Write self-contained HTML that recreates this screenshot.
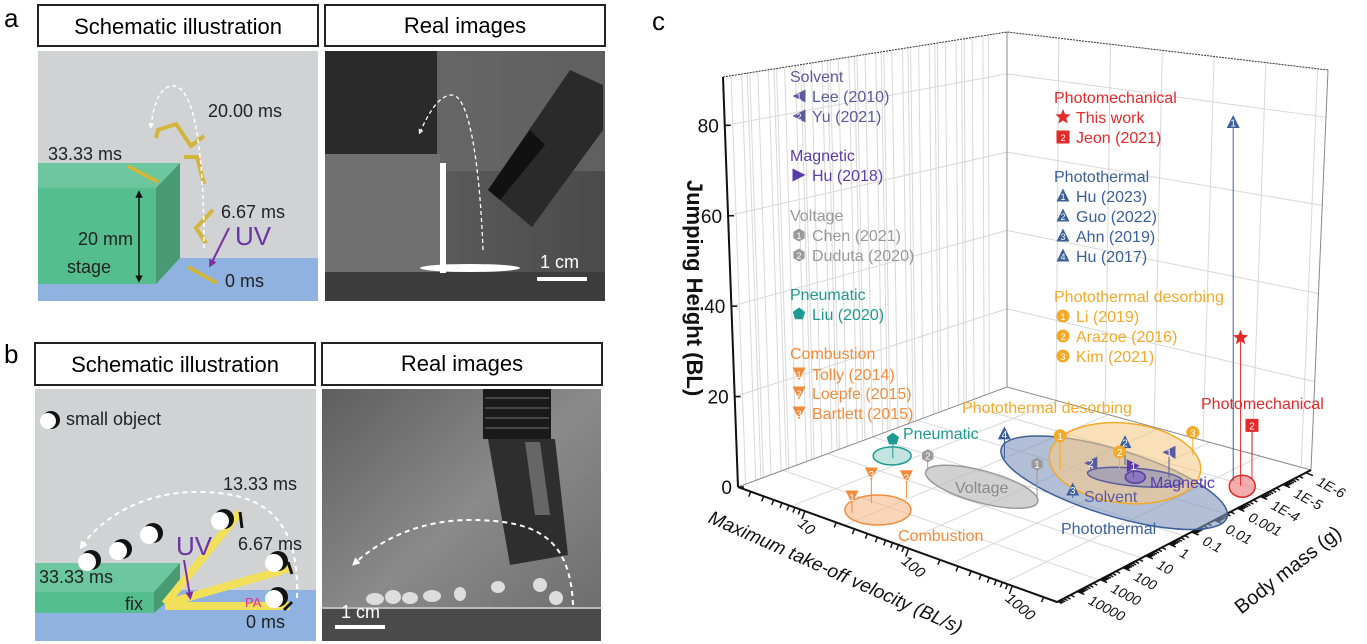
<!DOCTYPE html>
<html><head><meta charset="utf-8"><style>
body{margin:0;background:#fff;width:1367px;height:644px;overflow:hidden;font-family:"Liberation Sans",sans-serif}
svg{position:absolute;left:0;top:0}
</style></head><body>
<svg width="1367" height="644" viewBox="0 0 1367 644" xmlns="http://www.w3.org/2000/svg" font-family="Liberation Sans, sans-serif">
<defs>
<linearGradient id="gpa" x1="0" y1="0" x2="1" y2="0"><stop offset="0" stop-color="#666"/><stop offset="1" stop-color="#4a4a4a"/></linearGradient>
<linearGradient id="gpb" x1="0" y1="0" x2="1" y2="1"><stop offset="0" stop-color="#5e5e5e"/><stop offset="0.5" stop-color="#8a8a8a"/><stop offset="1" stop-color="#6a6a6a"/></linearGradient>
<marker id="ah" viewBox="0 0 10 10" refX="5" refY="5" markerWidth="4" markerHeight="4" orient="auto"><path d="M0,0L10,5L0,10z" fill="#fff"/></marker>
<marker id="ahp" viewBox="0 0 10 10" refX="5" refY="5" markerWidth="4" markerHeight="4" orient="auto"><path d="M0,0L10,5L0,10z" fill="#7b2fa0"/></marker>
<marker id="ahk" viewBox="0 0 10 10" refX="5" refY="5" markerWidth="5" markerHeight="5" orient="auto-start-reverse"><path d="M0,0L10,5L0,10z" fill="#111"/></marker>
</defs>

<!-- Panel a -->
<text x="4" y="27" font-size="26">a</text>
<g>
<rect x="38" y="5" width="280" height="41" fill="#fff" stroke="#222" stroke-width="2"/>
<text x="178" y="34" font-size="22" text-anchor="middle">Schematic illustration</text></g>
<g>
<rect x="325" y="5" width="280" height="41" fill="#fff" stroke="#222" stroke-width="2"/>
<text x="465" y="33" font-size="22" text-anchor="middle">Real images</text></g>

<g>
<rect x="38" y="51" width="280" height="250" fill="#d1d2d4"/>
<rect x="38" y="258" width="280" height="43" fill="#8fb2e0"/>
<polygon points="38,163 180,163 156,188 38,188" fill="#6cc6a0"/>
<rect x="38" y="188" width="118" height="96" fill="#55be8e"/>
<polygon points="156,188 180,163 180,258 156,284" fill="#479a72"/>
<line x1="139" y1="194" x2="139" y2="279" stroke="#111" stroke-width="1.5" marker-start="url(#ahk)" marker-end="url(#ahk)"/>
<g stroke="#d2b53c" stroke-width="4" fill="none">
<line x1="128" y1="166" x2="158" y2="182"/>
<polyline points="156,138 158,130 176,124 191,146 204,136"/>
<polyline points="184,157 197,157 204,184"/>
<polyline points="213,210 196,228 206,243"/>
<line x1="188" y1="267" x2="217" y2="283"/>
</g>
<path d="M204,248 C204,160 196,86 173,86 C158,86 153,110 151,126" fill="none" stroke="#fff" stroke-width="1.5" stroke-dasharray="4,3" marker-end="url(#ah)"/>
<line x1="229" y1="228" x2="211" y2="264" stroke="#7b2fa0" stroke-width="2" marker-end="url(#ahp)"/>
<g font-size="18" fill="#222">
<text x="48" y="160">33.33 ms</text><text x="208" y="117">20.00 ms</text>
<text x="221" y="218">6.67 ms</text><text x="78" y="245">20 mm</text>
<text x="67" y="273">stage</text><text x="225" y="287">0 ms</text></g>
<text x="235" y="245" font-size="26" fill="#6b35a5">UV</text>
</g>

<g>
<rect x="325" y="51" width="280" height="250" fill="url(#gpa)"/>
<rect x="437" y="51" width="168" height="120" fill="#6e6e6e" opacity="0.6"/>
<rect x="325" y="51" width="112" height="103" fill="#2a2a2a"/>
<rect x="325" y="154" width="115" height="118" fill="#707070"/>
<rect x="325" y="272" width="280" height="29" fill="#3c3c3c"/>
<rect x="440" y="163" width="6" height="110" fill="#fff"/>
<ellipse cx="470" cy="268" rx="50" ry="4" fill="#fff"/>
<polygon points="488,190 532,227 603,130 603,85 570,70" fill="#2a2a2a"/>
<polygon points="488,190 500,200 545,145 530,130" fill="#111"/>
<path d="M483,250 C480,170 470,95 452,95 C440,95 430,110 420,132" fill="none" stroke="#fff" stroke-width="1.3" stroke-dasharray="4,3" marker-end="url(#ah)"/>
<text x="540" y="268" font-size="18" fill="#fff">1 cm</text>
<rect x="537" y="277" width="50" height="4" fill="#fff"/>
</g>

<!-- Panel b -->
<text x="4" y="363" font-size="26">b</text>
<g>
<rect x="35" y="343" width="280" height="42" fill="#fff" stroke="#222" stroke-width="2"/>
<text x="175" y="372" font-size="22" text-anchor="middle">Schematic illustration</text></g>
<g>
<rect x="322" y="343" width="280" height="42" fill="#fff" stroke="#222" stroke-width="2"/>
<text x="462" y="371" font-size="22" text-anchor="middle">Real images</text></g>

<g>
<rect x="35" y="389" width="281" height="252" fill="#d1d2d4"/>
<rect x="35" y="590" width="281" height="51" fill="#8fb2e0"/>
<polygon points="35,563 180,563 154,592 35,592" fill="#6cc6a0"/>
<rect x="35" y="592" width="119" height="21" fill="#55be8e"/>
<polygon points="154,592 180,563 180,590 154,613" fill="#479a72"/>
<g stroke="#f2df5a" stroke-width="8" stroke-linecap="butt">
<line x1="165" y1="604" x2="240" y2="512"/>
<line x1="165" y1="604" x2="290" y2="568"/>
<line x1="165" y1="606" x2="290" y2="606"/></g>
<g stroke="#111" stroke-width="3"><line x1="240" y1="512" x2="242" y2="528"/><line x1="288" y1="562" x2="292" y2="574"/><line x1="284" y1="610" x2="292" y2="602"/></g>
<g>
<circle cx="51" cy="420" r="9" fill="#111"/><circle cx="48" cy="421" r="8" fill="#fff"/>
<circle cx="91" cy="560" r="10" fill="#111"/><circle cx="87" cy="562" r="9" fill="#fff"/>
<circle cx="122" cy="549" r="10" fill="#111"/><circle cx="118" cy="551" r="9" fill="#fff"/>
<circle cx="153" cy="533" r="10" fill="#111"/><circle cx="149" cy="535" r="9" fill="#fff"/>
<circle cx="224" cy="519" r="10" fill="#111"/><circle cx="220" cy="521" r="9" fill="#fff"/>
<circle cx="278" cy="561" r="10" fill="#111"/><circle cx="274" cy="563" r="9" fill="#fff"/>
<circle cx="278" cy="597" r="10" fill="#111"/><circle cx="274" cy="599" r="9" fill="#fff"/></g>
<path d="M297,598 C300,510 255,492 197,492 C140,492 100,520 82,546" fill="none" stroke="#fff" stroke-width="2" stroke-dasharray="5,4" marker-end="url(#ah)"/>
<line x1="184" y1="560" x2="190" y2="596" stroke="#7b2fa0" stroke-width="2" marker-end="url(#ahp)"/>
<g font-size="18" fill="#222">
<text x="66" y="425">small object</text><text x="223" y="490">13.33 ms</text>
<text x="238" y="550">6.67 ms</text><text x="39" y="583">33.33 ms</text>
<text x="125" y="610">fix</text><text x="246" y="628">0 ms</text></g>
<text x="245" y="607" font-size="13" fill="#e8308c">PA</text>
<text x="176" y="555" font-size="26" fill="#6b35a5">UV</text>
</g>

<g>
<rect x="322" y="389" width="279" height="252" fill="url(#gpb)"/>
<rect x="322" y="608" width="279" height="33" fill="#4a4a4a"/>
<line x1="322" y1="608" x2="601" y2="608" stroke="#bbb" stroke-width="2"/>
<rect x="483" y="389" width="68" height="50" fill="#1a1a1a"/>
<g stroke="#555" stroke-width="1.5"><line x1="485" y1="398" x2="549" y2="398"/><line x1="485" y1="408" x2="549" y2="408"/><line x1="485" y1="418" x2="549" y2="418"/><line x1="485" y1="428" x2="549" y2="428"/></g>
<polygon points="488,439 555,439 568,555 510,565" fill="#2e2e2e"/>
<polygon points="525,442 540,442 550,515 535,515" fill="#666"/>
<g fill="#ddd"><ellipse cx="375" cy="599" rx="9" ry="6"/><ellipse cx="393" cy="597" rx="8" ry="7"/><ellipse cx="410" cy="598" rx="8" ry="6"/><ellipse cx="432" cy="596" rx="9" ry="6"/><ellipse cx="460" cy="594" rx="6" ry="7"/><ellipse cx="498" cy="587" rx="7" ry="6"/><ellipse cx="540" cy="585" rx="7" ry="7"/><ellipse cx="556" cy="598" rx="7" ry="7"/></g>
<path d="M573,605 C570,540 540,520 470,520 C420,520 380,540 355,563" fill="none" stroke="#fff" stroke-width="2" stroke-dasharray="5,4" marker-end="url(#ah)"/>
<text x="341" y="618" font-size="18" fill="#fff">1 cm</text>
<rect x="335" y="625" width="50" height="4" fill="#fff"/>
</g>

<!-- Panel c -->
<text x="652" y="30" font-size="26">c</text>
<g id="chart"></g>
</svg>
<script>
const NS='http://www.w3.org/2000/svg';
const chart=document.getElementById('chart');
function el(t,a,p){const e=document.createElementNS(NS,t);for(const k in a)e.setAttribute(k,a[k]);(p||chart).appendChild(e);return e;}

// ---- data ----
const names=['Hu (2023)','This work','Jeon (2021)','Liu (2020)','Tolly (2014)','Bartlett (2015)','Loepfe (2015)','Duduta (2020)','Chen (2021)','Hu (2017)','Ahn (2019)','Guo (2022)','Li (2019)','Arazoe (2016)','Kim (2021)','Yu (2021)','Lee (2010)','Hu (2018)'];
const groups=['photothermal','photomech','photomech','pneumatic','combustion','combustion','combustion','voltage','voltage','photothermal','photothermal','photothermal','desorbing','desorbing','desorbing','solvent','solvent','magnetic'];
const velocity=[500,630,600,5.4,18,16.5,21,11.5,92,19,137,91,51,100,145,72,220,145];
const mass=[3e-6,4e-6,1.1e-6,1.3,11000,1200,120,1.2,0.27,0.007,0.05,6e-5,0.0024,1.5e-4,7e-7,5.7e-4,4e-5,2e-4];
const height=[85,35,13,4.4,3.5,6.4,4.7,3.3,7.7,5.7,1.8,5.3,8,4.3,5.5,1.6,6,2.7];
const labels=['1','★','2','','1','3','2','2','1','4','3','2','1','2','3','2','1','1'];
const regionNames=['combustion','pneumatic','voltage','photothermal','desorbing','solvent','magnetic','photomech'];
const regionVel=[22,5,35,138,86,148,148,650];
const regionMass=[2200,1,0.83,0.001,4.7e-5,1.8e-4,1.8e-4,3.9e-6];
const zTicks=[0,20,40,60,80];
const vTicks=[10,100,1000];
const mTicks=['1E-6','1E-5','1E-4','0.001','0.01','0.1','1','10','100','1000','10000'];
const mTickVals=[1e-6,1e-5,1e-4,1e-3,1e-2,0.1,1,10,100,1000,10000];

const COL={solvent:'#5b5a9e',magnetic:'#5a3ca8',voltage:'#9a9a9a',pneumatic:'#1f9a92',combustion:'#f28c3c',photomech:'#e42a2a',photothermal:'#3b5f98',desorbing:'#f2aa28'};

// ---- axes ----
const L=[738,487],F=[1057,602],R=[1311,470],B=[1007,387];
function uOf(v){return 0.21+0.325*(Math.log10(v)-1);}
function wOf(m){return 0.08+0.09*(4-Math.log10(m));}
function floorPt(u,w){return [L[0]+319*u+269*w, L[1]+115*u-100*w];}
function zScale(u,w){return 4.55-0.6*w+0.3*u;}
function proj(v,m,h){const u=uOf(v),w=wOf(m);const p=floorPt(u,w);return [p[0],p[1]-h*zScale(u,w)];}

const LT=[723,77],BT=[1007,32],RT=[1328,70];
function lerp(a,b,t){return [a[0]+(b[0]-a[0])*t,a[1]+(b[1]-a[1])*t];}
const gridG=el('g',{stroke:'#d8d8d8','stroke-width':1,fill:'none'});

for(let d=0;d<10;d++)for(let k=1;k<10;k+=(k<2?1:3)){const t=(d+Math.log10(k))/10.6;if(t>1)continue;const b=lerp(L,B,t),tp=lerp(LT,BT,t);el('line',{x1:b[0],y1:b[1],x2:tp[0],y2:tp[1]},gridG);}
for(let d=0;d<=6;d++){const t=d/6.2;const b=lerp(B,R,t),tp=lerp(BT,RT,t);el('line',{x1:b[0],y1:b[1],x2:tp[0],y2:tp[1]},gridG);}
zTicks.forEach(z=>{if(!z)return;const t=z/90.7;const a=lerp(L,LT,t),b=lerp(B,BT,t),c=lerp(R,RT,t);el('polyline',{points:`${a} ${b} ${c}`},gridG);});
for(let i=1;i<6;i++){const t=i/6;const a=lerp(L,F,t),b=lerp(B,R,t);el('line',{x1:a[0],y1:a[1],x2:b[0],y2:b[1]},gridG);const c=lerp(L,B,t),d=lerp(F,R,t);el('line',{x1:c[0],y1:c[1],x2:d[0],y2:d[1]},gridG);}
const box=el('g',{stroke:'#333','stroke-width':1,fill:'none'});

el('polyline',{points:`${LT} ${BT} ${RT}`,'stroke-dasharray':'2,1'},box);
el('line',{x1:B[0],y1:B[1],x2:BT[0],y2:BT[1],stroke:'#888'},box);
el('line',{x1:R[0],y1:R[1],x2:RT[0],y2:RT[1],stroke:'#888'},box);
el('polyline',{points:`${L} ${B} ${R}`,stroke:'#888'},box);
el('polyline',{points:`${L} ${F} ${R}`,'stroke-width':2,stroke:'#111'},box);
el('line',{x1:L[0],y1:L[1],x2:LT[0],y2:LT[1],'stroke-width':2,stroke:'#111'},box);

zTicks.forEach(z=>{const p=lerp(L,LT,z/90.7);
const t=el('text',{x:p[0]-6,y:p[1]+7,'font-size':19,'text-anchor':'end',fill:'#111'});t.textContent=z;

el('line',{x1:p[0],y1:p[1],x2:p[0]+6,y2:p[1],stroke:'#111','stroke-width':1.5});});
for(let d=0;d<4;d++)for(let k=1;k<10;k++){const v=k*Math.pow(10,d);const u=uOf(v);if(u<0||u>1)continue;const p=[L[0]+(F[0]-L[0])*u,L[1]+(F[1]-L[1])*u];el('line',{x1:p[0],y1:p[1],x2:p[0]-(k==1?3:2),y2:p[1]+(k==1?8:5),stroke:'#111','stroke-width':1.5});}
vTicks.forEach(v=>{const u=uOf(v);const p=[L[0]+(F[0]-L[0])*u,L[1]+(F[1]-L[1])*u];
const t=el('text',{x:p[0]-8,y:p[1]+14,'font-size':15,'font-style':'italic',fill:'#111',transform:`rotate(40 ${p[0]-8} ${p[1]+14})`});t.textContent=v;
});
mTickVals.forEach((m,i)=>{const w=wOf(m);const p=lerp(F,R,w);
for(let k=1;k<10;k++){const q=lerp(F,R,wOf(m*k));if(wOf(m*k)<0)break;el('line',{x1:q[0],y1:q[1],x2:q[0]+(k==1?7:4),y2:q[1]+(k==1?3:2),stroke:'#111','stroke-width':1.5});}
const t=el('text',{x:p[0]+10,y:p[1]+12,'font-size':14,'font-style':'italic',fill:'#111',transform:`rotate(28 ${p[0]+10} ${p[1]+12})`});t.textContent=mTicks[i];
});

let t=el('text',{x:687,y:288,'font-size':22,'text-anchor':'middle',fill:'#111','font-weight':'bold',transform:'rotate(90 687 288)'});t.textContent='Jumping Height (BL)';

t=el('text',{x:833,y:578,'font-size':19,'font-style':'italic','text-anchor':'middle',fill:'#111',transform:'rotate(24 833 578)'});t.textContent='Maximum take-off velocity (BL/s)';

t=el('text',{x:1292,y:575,'font-size':20,'text-anchor':'middle',fill:'#111',transform:'rotate(-38 1292 575)'});t.textContent='Body mass (g)';


const RS={combustion:[33,15,0,0.35],pneumatic:[19,9,0,0.3],voltage:[58,16,15,0.45],photothermal:[118,33,17,0.35],desorbing:[76,40,6,0.35],solvent:[48,9,5,0.35],magnetic:[10,6,0,0.5],photomech:[13,11,0,0.45]};
const fillC={combustion:'#f7b98a',pneumatic:'#8fcfc7',voltage:'#bdbdbd',photothermal:'#8195bd',desorbing:'#f5cc8a',solvent:'#8a8db8',magnetic:'#7d6ac0',photomech:'#f08a8a'};
regionNames.forEach((g,i)=>{const p=proj(regionVel[i],regionMass[i],0);const s=RS[g];
const e=el('ellipse',{cx:p[0],cy:p[1],rx:s[0],ry:s[1],fill:fillC[g],'fill-opacity':s[3]+0.25,stroke:COL[g],'stroke-width':1.5,transform:`rotate(${s[2]} ${p[0]} ${p[1]})`});
});

function shape(g,x,y,parent){const c=COL[g];let s=6.5;
switch(g){
case 'photothermal':return el('polygon',{points:`${x},${y-s-1} ${x+s},${y+s-1} ${x-s},${y+s-1}`,fill:c},parent);
case 'combustion':return el('polygon',{points:`${x-s},${y-s} ${x+s},${y-s} ${x},${y+s}`,fill:c},parent);
case 'solvent':return el('polygon',{points:`${x-s},${y} ${x+s},${y-s} ${x+s},${y+s}`,fill:c},parent);
case 'magnetic':return el('polygon',{points:`${x+s},${y} ${x-s},${y-s} ${x-s},${y+s}`,fill:c},parent);
case 'voltage':{let p=[];for(let k=0;k<6;k++){const a=Math.PI/6+k*Math.PI/3;p.push((x+s*Math.cos(a))+','+(y+s*Math.sin(a)));}return el('polygon',{points:p.join(' '),fill:c},parent);}
case 'pneumatic':{let p=[];for(let k=0;k<5;k++){const a=-Math.PI/2+k*2*Math.PI/5;p.push((x+s*Math.cos(a))+','+(y+s*Math.sin(a)));}return el('polygon',{points:p.join(' '),fill:c},parent);}
case 'desorbing':return el('circle',{cx:x,cy:y,r:s,fill:c},parent);
case 'photomech':return el('rect',{x:x-s,y:y-s,width:2*s,height:2*s,fill:c},parent);}}
names.forEach((n,i)=>{const g=groups[i];const top=proj(velocity[i],mass[i],height[i]);const bot=proj(velocity[i],mass[i],0);
const grp=el('g',{});


el('line',{x1:top[0],y1:top[1],x2:bot[0],y2:bot[1],stroke:COL[g],'stroke-width':1},grp);
if(labels[i]==='★'){const x=top[0],y=top[1];let p=[];for(let k=0;k<10;k++){const a=-Math.PI/2+k*Math.PI/5,r=k%2?3.5:8;p.push((x+r*Math.cos(a))+','+(y+r*Math.sin(a)));}el('polygon',{points:p.join(' '),fill:COL[g]},grp);}
else{shape(g,top[0],top[1],grp);if(labels[i]){const tx=el('text',{x:top[0],y:top[1]+4,'font-size':10,'text-anchor':'middle',fill:'#fff'},grp);tx.textContent=labels[i];}}
});

const rl=[['Photothermal desorbing',962,413,'desorbing'],['Pneumatic',903,439,'pneumatic'],['Voltage',955,493,'voltage'],['Combustion',898,541,'combustion'],['Solvent',1084,502,'solvent'],['Magnetic',1150,488,'magnetic'],['Photothermal',1061,534,'photothermal'],['Photomechanical',1201,409,'photomech']];
rl.forEach(r=>{const tx=el('text',{x:r[1],y:r[2],'font-size':16,fill:r[3]=='voltage'?'#888':COL[r[3]]});tx.textContent=r[0];
});

const legL=[['Solvent',76,'solvent',null],['Lee (2010)',96,'solvent','1'],['Yu (2021)',116,'solvent','2'],['Magnetic',155,'magnetic',null],['Hu (2018)',175,'magnetic',''],['Voltage',215,'voltage',null],['Chen (2021)',235,'voltage','1'],['Duduta (2020)',255,'voltage','2'],['Pneumatic',294,'pneumatic',null],['Liu (2020)',314,'pneumatic',''],['Combustion',353,'combustion',null],['Tolly (2014)',374,'combustion','1'],['Loepfe (2015)',393,'combustion','2'],['Bartlett (2015)',413,'combustion','3']];
const legR=[['Photomechanical',97,'photomech',null],['This work',117,'photomech','★'],['Jeon (2021)',137,'photomech','2'],['Photothermal',176,'photothermal',null],['Hu (2023)',196,'photothermal','1'],['Guo (2022)',216,'photothermal','2'],['Ahn (2019)',236,'photothermal','3'],['Hu (2017)',256,'photothermal','4'],['Photothermal desorbing',296,'desorbing',null],['Li (2019)',316,'desorbing','1'],['Arazoe (2016)',336,'desorbing','2'],['Kim (2021)',356,'desorbing','3']];
function legend(list,x0){list.forEach(r=>{const c=r[2]=='voltage'?'#999':COL[r[2]];const g=el('g',{});

if(r[3]===null){const tx=el('text',{x:x0,y:r[1]+6,'font-size':16,fill:c},g);tx.textContent=r[0];}
else{if(r[3]==='★'){const x=x0+9,y=r[1];let p=[];for(let k=0;k<10;k++){const a=-Math.PI/2+k*Math.PI/5,rr=k%2?3.5:8;p.push((x+rr*Math.cos(a))+','+(y+rr*Math.sin(a)));}el('polygon',{points:p.join(' '),fill:c},g);}
else{shape(r[2],x0+9,r[1],g);if(r[3]){const tx=el('text',{x:x0+9,y:r[1]+4,'font-size':9,'text-anchor':'middle',fill:'#fff'},g);tx.textContent=r[3];}}
const tx=el('text',{x:x0+22,y:r[1]+6,'font-size':16,fill:c},g);tx.textContent=r[0];}});}
legend(legL,790);legend(legR,1054);
</script>
</body></html>
